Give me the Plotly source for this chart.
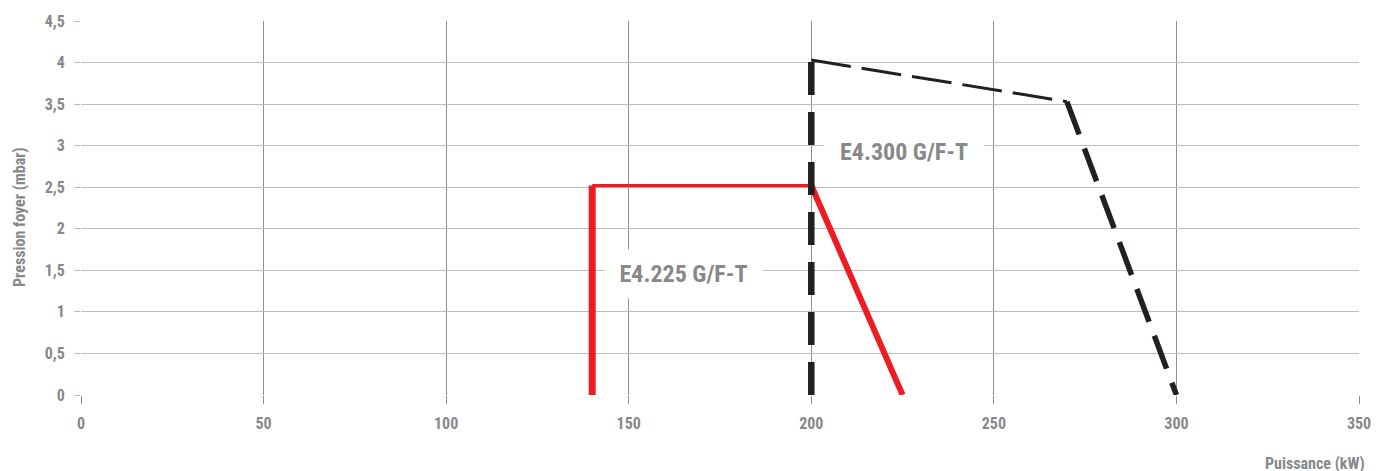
import plotly.graph_objects as go

# Data
x_ticks = [0, 50, 100, 150, 200, 250, 300, 350]
x_tick_labels = ["0", "50", "100", "150", "200", "250", "300", "350"]
y_ticks = [0, 0.5, 1, 1.5, 2, 2.5, 3, 3.5, 4, 4.5]
y_tick_labels = ["0", "0,5", "1", "1,5", "2", "2,5", "3", "3,5", "4", "4,5"]

e4225_x = [140, 140, 200, 225]
e4225_y = [0, 2.52, 2.52, 0]
e4300_x = [200, 200, 270, 300]
e4300_y = [0, 4.03, 3.53, 0]

label_225 = "E4.225 G/F-T"
label_300 = "E4.300 G/F-T"
label_225_pos = (165, 1.46)
label_300_pos = (225.5, 2.92)

FONT = "Roboto Condensed, Liberation Sans Narrow, DejaVu Sans Condensed, sans-serif"
TXT = "#87888a"
RED = "#ed1c24"
BLACK = "#231f20"

fig = go.Figure()

# red series segments (widths vary per segment as in reference)
red_w = [7, 3.3, 6]
for i in range(3):
    fig.add_trace(go.Scatter(
        x=e4225_x[i:i + 2], y=e4225_y[i:i + 2], mode="lines",
        line=dict(color=RED, width=red_w[i]), showlegend=False, hoverinfo="skip"))

black_w = [6.5, 3, 5.5]
black_dash = ["33px,17px", "40px,11px", "35px,15px"]
for i in range(3):
    fig.add_trace(go.Scatter(
        x=e4300_x[i:i + 2], y=e4300_y[i:i + 2], mode="lines",
        line=dict(color=BLACK, width=black_w[i], dash=black_dash[i]),
        showlegend=False, hoverinfo="skip"))

fig.add_annotation(x=label_225_pos[0], y=label_225_pos[1], text="<b>" + label_225 + "</b>",
                   showarrow=False, bgcolor="white", width=155, height=46,
                   font=dict(family=FONT, size=24, color=TXT))
fig.add_annotation(x=label_300_pos[0], y=label_300_pos[1], text="<b>" + label_300 + "</b>",
                   showarrow=False, bgcolor="white", width=156, height=46,
                   font=dict(family=FONT, size=24, color=TXT))

# axis titles
fig.add_annotation(xref="paper", yref="paper", x=1, y=0, xanchor="right", yanchor="middle",
                   xshift=8, yshift=-68, text="<b>Puissance (kW)</b>", showarrow=False,
                   font=dict(family=FONT, size=16, color=TXT))
fig.add_annotation(xref="paper", yref="paper", x=0, y=0.476, xanchor="center", yanchor="middle",
                   xshift=-61, text="<b>Pression foyer (mbar)</b>", showarrow=False, textangle=-90,
                   font=dict(family=FONT, size=16, color=TXT))

# page has an 8px body margin: figure sized so the plot lands where the reference has it
fig.update_layout(
    width=1371, height=463,
    margin=dict(l=73, r=20, t=13, b=76, autoexpand=False),
    paper_bgcolor="white", plot_bgcolor="white",
    font=dict(family=FONT, color=TXT),
)
fig.update_xaxes(
    range=[0, 350], tickmode="array", tickvals=x_ticks,
    ticktext=["<b>%s</b>" % t for t in x_tick_labels],
    showgrid=True, gridcolor="#8e8e8e", gridwidth=1.4,
    ticks="outside", ticklen=8, tickcolor="#8e8e8e", tickwidth=1.4,
    ticklabelstandoff=6, automargin=False,
    zeroline=False, showline=False,
    tickfont=dict(family=FONT, size=16, color=TXT),
)
fig.update_yaxes(
    range=[0, 4.5], tickmode="array", tickvals=y_ticks,
    ticktext=["<b>%s</b>" % t for t in y_tick_labels],
    showgrid=True, gridcolor="#bcbcbc", gridwidth=1,
    ticks="outside", ticklen=6, tickcolor="#bcbcbc", tickwidth=1,
    ticklabelstandoff=6, automargin=False,
    zeroline=False, showline=False,
    tickfont=dict(family=FONT, size=16, color=TXT),
)

fig.write_html("out.html")
